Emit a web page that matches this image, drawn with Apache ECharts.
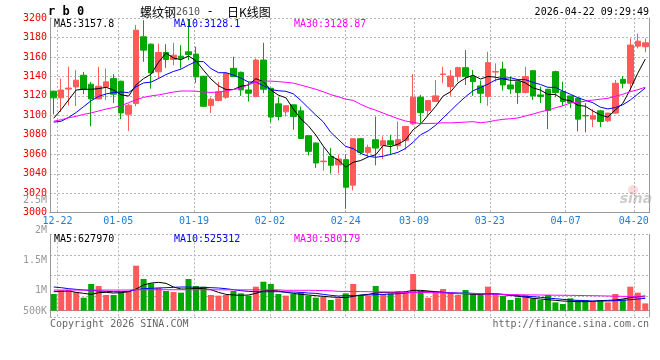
<!DOCTYPE html>
<html><head><meta charset="utf-8">
<script src="https://cdn.jsdelivr.net/npm/echarts@6/dist/echarts.min.js"></script>
<style>html,body{margin:0;padding:0;background:#fff}#c{width:660px;height:360px}</style>
</head><body><div id="c"></div>
<script>
// ---------- data ----------
const dates = ['12-19','12-22','12-23','12-24','12-25','12-26','12-29','12-30','12-31','01-05','01-06','01-07','01-08','01-09','01-12','01-13','01-14','01-15','01-16','01-19','01-20','01-21','01-22','01-23','01-26','01-27','01-28','01-29','01-30','02-02','02-03','02-04','02-05','02-06','02-09','02-10','02-11','02-12','02-13','02-24','02-25','02-26','02-27','03-02','03-03','03-04','03-05','03-06','03-09','03-10','03-11','03-12','03-13','03-16','03-17','03-18','03-19','03-20','03-23','03-24','03-25','03-26','03-27','03-30','03-31','04-01','04-02','04-03','04-07','04-08','04-09','04-10','04-13','04-14','04-15','04-16','04-17','04-20','04-21','04-22'];
const openP = [3124.8,3118,3127,3129.2,3141.2,3132,3116.9,3129.2,3137.8,3135.1,3101.1,3112.1,3180.7,3173.1,3144.7,3164.6,3157.4,3160.8,3165.3,3162.9,3140.2,3110,3115.2,3118.6,3148.3,3144.2,3126.1,3119.3,3156.8,3127.8,3111.8,3103.6,3110.8,3104.6,3079.1,3071.6,3052.4,3057.9,3049.1,3054.5,3028.3,3076,3062,3075,3068.8,3073.9,3068.8,3074.3,3091.3,3118.6,3105,3114.2,3142,3129.5,3139.8,3149,3139.8,3130.2,3119.3,3144.5,3147.6,3131.2,3134.6,3123.4,3145.9,3121,3126.8,3144.9,3124.4,3120,3117.6,3099.8,3096.1,3104.6,3094.4,3102.3,3137,3132.9,3171.1,3170.5];
const closeP = [3118,3126,3128,3136.1,3126.5,3116.9,3129.9,3134.4,3121.7,3102.5,3110.4,3187.5,3167,3143.6,3164.6,3157.4,3161.8,3158.7,3162.5,3139.5,3109.3,3116.5,3124.1,3143.2,3139.8,3126.1,3122.7,3156.8,3126.8,3098.2,3098.8,3109.8,3098.8,3076.3,3063,3051.1,3053,3048.7,3055.2,3026.2,3076,3062,3067.1,3066.4,3073.9,3069.9,3075,3088.6,3118.6,3102.9,3115.2,3120,3142.5,3140.4,3149,3139.8,3134.6,3122.7,3154.1,3144.9,3131.2,3127.1,3123.4,3139.8,3120,3119.3,3105,3123.4,3114.2,3113.2,3096.1,3099.5,3099.5,3093.7,3102.3,3132.9,3132.9,3172.2,3176.2,3174.5];
const highP = [3125.5,3137.8,3150,3146.4,3144.7,3134.4,3149.8,3148.1,3142.3,3135.5,3112.1,3192.7,3197.8,3173.8,3173.8,3173.1,3174.5,3172.1,3197.8,3170.4,3140.5,3118.3,3134.4,3144,3160.2,3145,3134.6,3158.5,3174.5,3128.2,3118.6,3110.2,3111,3109,3079.5,3072,3067.1,3066.4,3059.6,3059.6,3076.3,3076.3,3069.9,3098.8,3078.4,3080.1,3093.7,3089,3142.5,3121,3115.9,3136.4,3150,3146.6,3150,3167,3146.6,3135.7,3165.3,3153.4,3155.1,3139.8,3135,3150,3146.2,3129.5,3127.2,3145.9,3134.6,3120.3,3118,3112.5,3106.3,3105.7,3102.6,3136.4,3140.4,3179,3184.1,3179];
const lowP = [3101,3103.5,3110,3109.7,3121.7,3088.8,3116.5,3115.5,3112.8,3096,3084,3109.3,3155,3127.5,3137.8,3148.8,3151.5,3148.1,3156.7,3133.4,3108.7,3102.5,3114.5,3117,3139.5,3120,3114.2,3118.6,3122.7,3093,3094.8,3098.8,3085.2,3075.8,3058.9,3046,3043.3,3040.2,3040.2,3004,3022.8,3059.6,3057.9,3048.7,3055.2,3059.6,3064.7,3064.7,3090.3,3091.3,3098.8,3113.8,3132.9,3120,3134.6,3131.2,3120,3112.5,3109.8,3134.6,3125.4,3122,3111.8,3122.7,3115.9,3112.5,3085.9,3118.6,3109.8,3107.4,3083.5,3082.5,3087.9,3087.9,3093,3101.8,3127.8,3124.4,3168.7,3164.7];
const ma5 = [3097,3106,3116,3126,3126.9,3126.7,3127.5,3128.8,3125.9,3121.1,3119.8,3131.3,3137.8,3142.2,3154.6,3164.0,3158.9,3157.2,3161.0,3156.0,3146.4,3137.3,3130.4,3126.5,3126.6,3129.9,3131.2,3137.7,3134.4,3126.1,3120.7,3118.1,3106.5,3096.4,3089.3,3079.8,3068.4,3058.4,3054.2,3046.8,3051.8,3053.6,3057.3,3059.5,3069.1,3067.9,3070.5,3074.8,3085.2,3091.0,3100.1,3109.1,3119.8,3124.2,3133.4,3138.3,3141.3,3137.3,3140.0,3139.2,3137.5,3136.0,3136.1,3133.3,3128.3,3125.9,3121.5,3121.5,3116.4,3115.0,3110.4,3109.3,3104.5,3100.4,3098.2,3105.6,3112.3,3126.8,3143.3,3157.8];
const ma10 = [3093,3094,3098,3103,3109,3115,3119.5,3122,3123.5,3124.0,3123.3,3129.4,3133.3,3134.1,3137.9,3141.9,3145.1,3147.5,3151.6,3155.3,3155.2,3148.1,3143.8,3143.8,3141.3,3138.2,3134.3,3134.1,3130.5,3126.4,3125.3,3124.7,3122.1,3115.4,3107.7,3100.3,3093.3,3082.5,3075.3,3068.1,3065.8,3061.0,3057.9,3056.9,3058.0,3059.9,3062.1,3066.1,3072.4,3080.1,3084.0,3089.8,3097.3,3104.7,3112.2,3119.2,3125.2,3128.6,3132.1,3136.3,3137.9,3138.7,3136.7,3136.7,3133.8,3131.7,3128.8,3128.8,3124.9,3121.7,3118.2,3115.4,3113.0,3108.4,3106.6,3108.0,3110.8,3115.7,3121.9,3128.1];
const ma30 = [3094,3095.5,3097.5,3099,3101,3102.5,3104.5,3106.5,3108,3110,3113,3116,3118.5,3120,3121,3122.5,3124,3125,3125,3124.8,3124,3123.5,3124,3125,3126.5,3128,3131.5,3134,3135.1,3135.2,3134.6,3134.0,3133.1,3131.1,3129.0,3126.8,3124.2,3121.3,3119.1,3116.6,3115.4,3111.3,3107.9,3105.3,3102.3,3099.4,3096.5,3094.2,3092.7,3091.5,3091.7,3091.8,3092.4,3092.3,3092.6,3093.1,3093.5,3092.4,3093.3,3094.8,3095.9,3096.5,3097.3,3099.4,3101.3,3103.6,3105.3,3107.8,3109.8,3112.7,3113.3,3114.6,3115.7,3116.6,3117.5,3119.6,3121.6,3124.3,3126.3,3128.87];
const volume = [712000,882000,882000,783000,555000,1139000,1053000,669000,669000,783000,840000,1922000,1352000,1167000,982000,840000,797000,769000,1352000,1053000,1025000,669000,641000,669000,840000,740000,641000,1025000,1238000,1139000,712000,641000,712000,783000,641000,555000,598000,455000,527000,740000,1139000,669000,626000,1053000,712000,740000,840000,783000,1566000,840000,555000,783000,925000,740000,669000,882000,712000,712000,1025000,669000,626000,455000,555000,669000,527000,455000,669000,356000,285000,527000,455000,455000,413000,455000,356000,712000,484000,1025000,769000,313000];
const volMa5 = [811000,825000,840000,783000,740000,697000,769000,783000,754000,769000,811000,925000,1096000,1181000,1210000,1167000,1011000,925000,925000,954000,939000,897000,783000,697000,669000,655000,669000,740000,840000,868000,840000,783000,740000,697000,669000,641000,612000,584000,569000,555000,612000,669000,697000,754000,783000,783000,783000,811000,868000,868000,840000,811000,783000,740000,726000,726000,697000,697000,726000,726000,697000,655000,612000,584000,527000,498000,470000,441000,413000,398000,384000,384000,398000,427000,441000,455000,498000,555000,598000,627970];
const volMa10 = [1011000,982000,939000,911000,882000,868000,840000,825000,811000,811000,825000,897000,939000,954000,968000,982000,996000,1011000,1011000,996000,996000,982000,968000,939000,897000,854000,825000,811000,811000,811000,811000,797000,797000,783000,754000,740000,697000,655000,626000,641000,641000,655000,669000,683000,697000,712000,726000,754000,783000,797000,811000,797000,783000,769000,754000,754000,740000,726000,712000,697000,683000,655000,641000,612000,598000,569000,541000,512000,484000,455000,441000,427000,413000,413000,413000,427000,441000,470000,498000,525312];
const volMa30 = [880000,880000,880000,880000,880000,880000,880000,880000,880000,880000,882000,895000,895000,895000,895000,895000,895000,895000,895000,895000,895000,890000,890000,890000,890000,890000,890000,890000,890000,890000,888000,870000,870000,870000,870000,865000,860000,850000,825000,822000,820000,815000,811000,805000,800000,795000,790000,783000,780000,777000,773000,769000,760000,750000,740000,730000,726000,720000,712000,705000,697000,690000,683000,676000,672000,669000,665000,662000,658000,655000,650000,645000,640000,635000,626000,620000,612000,605000,598000,580179];
const labelDates = ['12-22','01-05','01-19','02-02','02-24','03-09','03-23','04-07','04-20'];
const priceMin = 3000, priceMax = 3200, priceStep = 20;
const volTickLabels = ['2.5M','2M','1.5M','1M','500K'];
const maLabels = ['MA5:3157.8','MA10:3128.1','MA30:3128.87'];
const volMaLabels = ['MA5:627970','MA10:525312','MA30:580179'];

// ---------- style ----------
const RED = '#ff5a5a', GREEN = '#00a800', GRID = '#b4b4b4', BORDER = '#999999';
const MONO = '"DejaVu Sans Mono", "Liberation Mono", monospace';
const isLabel = (i, v) => labelDates.indexOf(v) >= 0;

function txt(text, x, y, fill, align, font) {
  return { type: 'text', x: x, y: y, silent: true, z: 100,
    style: { text: text, fill: fill, font: font || ('10px ' + MONO), textAlign: align || 'left', textVerticalAlign: 'middle', verticalAlign: 'middle' } };
}

const chart = echarts.init(document.getElementById('c'), null, { renderer: 'canvas' });
const option = {
  animation: false,
  backgroundColor: '#fff',
  textStyle: { fontFamily: MONO },
  grid: [
    { left: 50, top: 18, width: 599, height: 194.7 },
    { left: 50, top: 234.3, width: 599, height: 82.7 }
  ],
  xAxis: [
    { type: 'category', gridIndex: 0, data: dates, boundaryGap: true, position: 'top',
      axisLine: { show: true, lineStyle: { color: BORDER, width: 1 } }, axisTick: { show: false }, axisLabel: { show: false }, splitLine: { show: false } },
    { type: 'category', gridIndex: 0, data: dates, boundaryGap: false, position: 'bottom',
      axisLine: { show: true, lineStyle: { color: BORDER, width: 1 } }, axisTick: { show: false },
      axisLabel: { show: true, interval: isLabel, color: '#1a7dd7', fontSize: 10, fontFamily: MONO, margin: 4 },
      splitLine: { show: true, interval: isLabel, lineStyle: { color: GRID, type: [2, 2], width: 1 } } },
    { type: 'category', gridIndex: 1, data: dates, boundaryGap: true, position: 'top',
      axisLine: { show: true, lineStyle: { color: BORDER, width: 1 } }, axisTick: { show: false }, axisLabel: { show: false }, splitLine: { show: false } },
    { type: 'category', gridIndex: 1, data: dates, boundaryGap: false, position: 'bottom',
      axisLine: { show: false }, axisTick: { show: false }, axisLabel: { show: false },
      splitLine: { show: true, interval: isLabel, lineStyle: { color: GRID, type: [2, 2], width: 1 } } }
  ],
  yAxis: [
    { type: 'value', gridIndex: 0, min: priceMin, max: priceMax, interval: priceStep, position: 'left',
      axisLine: { show: true, lineStyle: { color: BORDER } }, axisTick: { show: false },
      axisLabel: { color: '#ee0000', fontSize: 10, fontFamily: MONO, margin: 3, formatter: v => String(v) },
      splitLine: { show: true, lineStyle: { color: GRID, type: [2, 2] } } },
    { type: 'value', gridIndex: 0, min: 0, max: 1, position: 'right',
      axisLine: { show: true, lineStyle: { color: BORDER } }, axisTick: { show: false }, axisLabel: { show: false }, splitLine: { show: false } },
    { type: 'value', gridIndex: 1, min: -270000, max: 3262000, position: 'left',
      axisLine: { show: true, lineStyle: { color: BORDER } }, axisTick: { show: false }, axisLabel: { show: false }, splitLine: { show: false } },
    { type: 'value', gridIndex: 1, min: 0, max: 4, interval: 1, position: 'right',
      axisLine: { show: true, lineStyle: { color: BORDER } }, axisTick: { show: false }, axisLabel: { show: false },
      splitLine: { show: true, lineStyle: { color: GRID, type: [2, 2] } } }
  ],
  series: [
    { type: 'candlestick', xAxisIndex: 0, yAxisIndex: 0, barWidth: 6,
      data: openP.map((o, i) => [o, closeP[i], lowP[i], highP[i]]),
      itemStyle: { color: RED, color0: GREEN, borderColor: RED, borderColor0: GREEN, borderWidth: 1 } },
    { type: 'line', xAxisIndex: 0, yAxisIndex: 0, data: ma5, symbol: 'none', lineStyle: { color: '#000', width: 1 }, z: 5 },
    { type: 'line', xAxisIndex: 0, yAxisIndex: 0, data: ma10, symbol: 'none', lineStyle: { color: '#0000ff', width: 1 }, z: 5 },
    { type: 'line', xAxisIndex: 0, yAxisIndex: 0, data: ma30, symbol: 'none', lineStyle: { color: '#ff00ff', width: 1 }, z: 5 },
    { type: 'bar', xAxisIndex: 2, yAxisIndex: 2, barWidth: 6,
      data: volume.map((v, i) => ({ value: v, itemStyle: { color: closeP[i] >= openP[i] ? RED : GREEN } })) },
    { type: 'line', xAxisIndex: 2, yAxisIndex: 2, data: volMa5, symbol: 'none', lineStyle: { color: '#000', width: 1 }, z: 5 },
    { type: 'line', xAxisIndex: 2, yAxisIndex: 2, data: volMa10, symbol: 'none', lineStyle: { color: '#0000ff', width: 1 }, z: 5 },
    { type: 'line', xAxisIndex: 2, yAxisIndex: 2, data: volMa30, symbol: 'none', lineStyle: { color: '#ff00ff', width: 1 }, z: 5 }
  ],
  graphic: [
    txt('r b 0', 48, 12, '#000', 'left', 'bold 12px ' + MONO),
    { type: 'text', x: 140, y: 12, silent: true, z: 100,
      style: { text: '{a|螺纹钢}{b|2610}', verticalAlign: 'middle', textVerticalAlign: 'middle',
        rich: { a: { font: '12px "Noto Sans CJK SC"', fill: '#000', color: '#000' }, b: { font: '10px ' + MONO, fill: '#555', color: '#555' } } } },
    txt('-', 210, 12, '#000', 'center', '12px ' + MONO),
    txt('日K线图', 227, 12, '#000', 'left', '12px "Noto Sans CJK SC"'),
    txt('2026-04-22 09:29:49', 649, 12, '#000', 'right'),
    txt(maLabels[0], 54, 24, '#000'),
    txt(maLabels[1], 174, 24, '#0000ff'),
    txt(maLabels[2], 294, 24, '#ff00ff'),
    txt(volMaLabels[0], 54, 239, '#000'),
    txt(volMaLabels[1], 174, 239, '#0000ff'),
    txt(volMaLabels[2], 294, 239, '#ff00ff'),
    txt(volTickLabels[0], 47, 200, '#999', 'right'),
    txt(volTickLabels[1], 47, 230, '#999', 'right'),
    txt(volTickLabels[2], 47, 260, '#999', 'right'),
    txt(volTickLabels[3], 47, 290, '#999', 'right'),
    txt(volTickLabels[4], 47, 311, '#999', 'right'),
    txt('Copyright 2026 SINA.COM', 50, 324, '#666'),
    txt('http://finance.sina.com.cn', 649, 324, '#666', 'right'),
    { type: 'circle', shape: { cx: 633, cy: 190, r: 5 }, style: { fill: 'rgba(240,150,150,0.35)' }, silent: true, z: 1 },
    txt('sina', 636, 199, 'rgba(170,170,170,0.6)', 'center', 'italic bold 14px "DejaVu Sans"')
  ]
};
chart.setOption(option);
</script></body></html>
